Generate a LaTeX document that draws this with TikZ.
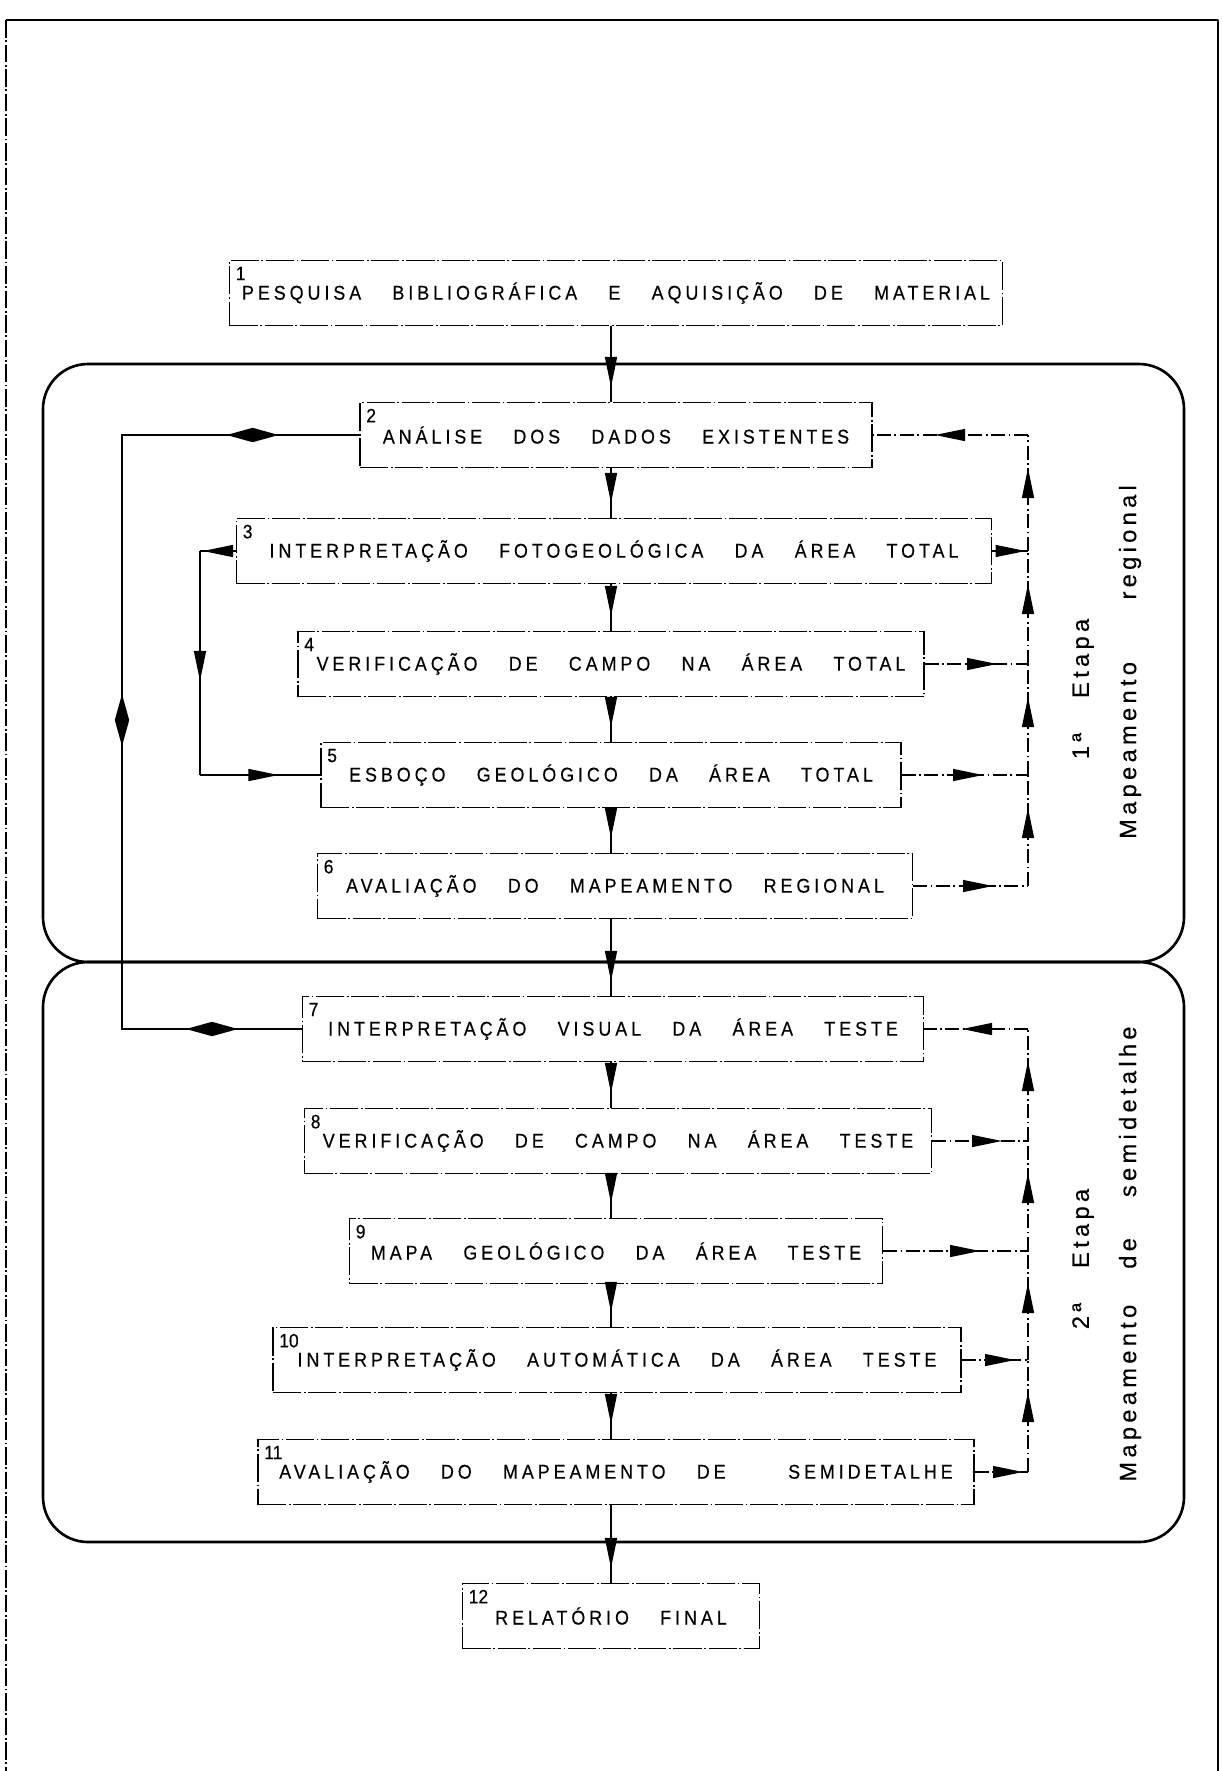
\documentclass[tikz,border=0pt]{standalone}
\usepackage{fontspec}
\setmainfont{Liberation Sans}
\newfontfamily\stagefont[FakeStretch=0.9,FakeBold=0.4,LetterSpace=20,WordSpace=3.5]{Liberation Sans}
\newfontfamily\numfont[FakeStretch=0.9,FakeBold=0.4]{Liberation Sans}
\newfontfamily\phasefont[LetterSpace=18,FakeBold=0.3]{Liberation Sans}
\usetikzlibrary{arrows.meta, shapes.geometric, decorations.markings}

\tikzset{
    stage/.style={draw, line width=0.6pt, dash pattern=on 16pt off 1.5pt on 1pt off 1.5pt,
        minimum height=13mm, inner xsep=2.5mm,
        font=\stagefont\fontsize{11.3pt}{13pt}\selectfont},
    num/.style={anchor=north west, inner sep=1.3mm, font=\numfont\fontsize{11pt}{12pt}\selectfont},
    flow/.style={line width=0.8pt},
    feedback/.style={line width=0.7pt, dash pattern=on 8pt off 2pt on 1pt off 2pt},
    phase/.style={line width=1.5pt, rounded corners=9mm},
    phasetext/.style={rotate=90, font=\phasefont\fontsize{13.5pt}{15pt}\selectfont},
    tipat/.style={postaction={decorate, decoration={markings,
        mark=at position #1 with {\arrow{Triangle[length=6mm, width=2.4mm]}}}}},
    biarrow/.style={diamond, fill=black, inner sep=0pt, minimum width=10.5mm, minimum height=3mm},
}

\begin{document}
\begin{tikzpicture}[x=0.2mm, y=-0.2mm]
        \useasboundingbox (0,0) rectangle (1222,1771);

        % frame of the page
        \draw[line width=1.6pt, line join=round] (6,20) -- (1218,20) -- (1218,1771);
        \draw[line width=0.7pt, dash pattern=on 10pt off 1.5pt on 1pt off 1.5pt] (6,20) -- (6,1771);

        % the two phases
        \draw[phase] (43,364) rectangle (1184,962);
        \draw[phase] (43,962) rectangle (1184,1542);

        \node[phasetext] (e1) at (1083,689) {1ª\hspace{7mm}Etapa};
        \node[phasetext] (m1) at (1130,662) {Mapeamento\hspace{12.5mm}regional};
        \node[phasetext] (e2) at (1083,1259) {2ª\hspace{7mm}Etapa};
        \node[phasetext] (m2) at (1130,1254) {Mapeamento\hspace{7.2mm}de\hspace{8.2mm}semidetalhe};

        % stages
        \node[stage, minimum width=153.8mm, label={[num]north west:1}] (b1) at (616,293) {PESQUISA BIBLIOGRÁFICA E AQUISIÇÃO DE MATERIAL};
        \node[stage, minimum width=102.4mm, label={[num]north west:2}] (b2) at (616,435) {ANÁLISE DOS DADOS EXISTENTES};
        \node[stage, minimum width=151mm, label={[num]north west:3}] (b3) at (614,551) {INTERPRETAÇÃO FOTOGEOLÓGICA DA ÁREA TOTAL};
        \node[stage, minimum width=125.2mm, label={[num]north west:4}] (b4) at (611,664) {VERIFICAÇÃO DE CAMPO NA ÁREA TOTAL};
        \node[stage, minimum width=116mm, label={[num]north west:5}] (b5) at (611,775) {ESBOÇO GEOLÓGICO DA ÁREA TOTAL};
        \node[stage, minimum width=119mm, label={[num]north west:6}] (b6) at (615,886) {AVALIAÇÃO DO MAPEAMENTO REGIONAL};
        \node[stage, minimum width=124.2mm, label={[num]north west:7}] (b7) at (613,1029) {INTERPRETAÇÃO VISUAL DA ÁREA TESTE};
        \node[stage, minimum width=125.4mm, label={[num]north west:8}] (b8) at (618,1141) {VERIFICAÇÃO DE CAMPO NA ÁREA TESTE};
        \node[stage, minimum width=106.6mm, label={[num]north west:9}] (b9) at (616,1251) {MAPA GEOLÓGICO DA ÁREA TESTE};
        \node[stage, minimum width=137.6mm, label={[num]north west:10}] (b10) at (617,1360) {INTERPRETAÇÃO AUTOMÁTICA DA ÁREA TESTE};
        \node[stage, minimum width=143.2mm, label={[num]north west:11}] (b11) at (616,1472) {AVALIAÇÃO DO MAPEAMENTO DE~ SEMIDETALHE};
        \node[stage, minimum width=59.4mm, label={[num]north west:12}] (b12) at (611,1616) {RELATÓRIO FINAL};

        % main sequence
        \foreach \a/\b in {b1/b2,b2/b3,b3/b4,b4/b5,b5/b6,b6/b7,b7/b8,b8/b9,b9/b10,b10/b11,b11/b12}
            \draw[flow, tipat=-3mm] (\a.south -| b12) -- (\b.north -| b12);

        % feedback on the right
        \coordinate (rl) at (1028,0);
        \foreach \i in {2,...,11}
            \coordinate (r\i) at (b\i.east -| rl);

        \draw[feedback, tipat=18.6mm] (r2) -- (b2.east);
        \draw[feedback, tipat=-0.5mm] (b3.east) -- (r3);
        \draw[feedback, tipat=-6.2mm] (b4.east) -- (r4);
        \draw[feedback, tipat=-9mm] (b5.east) -- (r5);
        \draw[feedback, tipat=-7mm] (b6.east) -- (r6);
        \foreach \a/\b in {6/5,5/4,4/3,3/2}
            \draw[feedback, tipat=-6.6mm] (r\a) -- (r\b);

        \draw[feedback, tipat=13.2mm] (r7) -- (b7.east);
        \draw[feedback, tipat=-5.2mm] (b8.east) -- (r8);
        \draw[feedback, tipat=-9.6mm] (b9.east) -- (r9);
        \draw[feedback, tipat=-2.6mm] (b10.east) -- (r10);
        \draw[feedback, tipat=-1mm] (b11.east) -- (r11);
        \foreach \a/\b in {11/10,10/9,9/8,8/7}
            \draw[feedback, tipat=-6.4mm] (r\a) -- (r\b);

        % loop from 3 to 5
        \coordinate (il) at (200,0);
        \coordinate (i3) at (b3.west -| il);
        \coordinate (i5) at (b5.west -| il);
        \draw[flow, tipat=-0.6mm] (b3.west) -- (i3);
        \draw[flow, tipat=0.58] (i3) -- (i5);
        \draw[flow, tipat=-8.4mm] (i5) -- (b5.west);

        % link between 2 and 7
        \coordinate (ol) at (122,0);
        \coordinate (o2) at (b2.west -| ol);
        \coordinate (o7) at (b7.west -| ol);
        \draw[flow] (b2.west) -- node[biarrow, pos=0.45] (d2) {} (o2)
            -- node[biarrow, rotate=90, pos=0.48] (d27) {} (o7)
            -- node[biarrow] (d7) {} (b7.west);

\end{tikzpicture}
\end{document}
